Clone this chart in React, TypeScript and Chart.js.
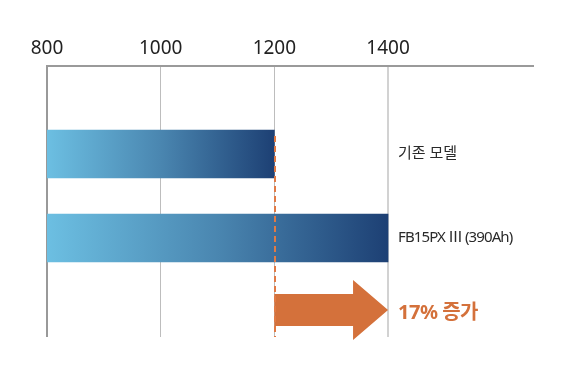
import React, { useEffect, useRef } from "react";
import { Chart, registerables } from "chart.js";

Chart.register(...registerables);

// ---- data ----
const rowLabels = ["기존 모델", "FB15PX Ⅲ (390Ah)"];
const capacities = [1200, 1400];
const rowPositions = [1, 2];
const increaseLabel = "17% 증가";
const increaseRow = 2.857;
const axisTicks = [800, 1000, 1200, 1400];
const axisMin = 800;
const axisMax = 1655;

const FONT = '"Noto Sans", "Noto Sans CJK KR", sans-serif';
const ORANGE = "#d4713b";

const annotations = {
  id: "annotations",
  afterDatasetsDraw(chart: any) {
    const { ctx, chartArea, scales } = chart;
    const xs = scales.x;
    const ys = scales.y;
    ctx.save();
    // row labels
    ctx.fillStyle = "#2a2a2a";
    ctx.textBaseline = "middle";
    ctx.textAlign = "left";
    const labelX = xs.getPixelForValue(capacities[1]) + 10;
    rowLabels.forEach((lbl, i) => {
      ctx.font = `15px ${FONT}`;
      (ctx as any).letterSpacing = i === 1 ? "-0.9px" : "0px";
      ctx.fillText(lbl, labelX, ys.getPixelForValue(rowPositions[i]));
    });
    (ctx as any).letterSpacing = "-0.5px";
    // increase label
    ctx.fillStyle = ORANGE;
    ctx.font = `bold 20px ${FONT}`;
    const ay = ys.getPixelForValue(increaseRow);
    ctx.fillText(increaseLabel, labelX, ay + 3);
    (ctx as any).letterSpacing = "0px";

    // arrow
    const x0 = xs.getPixelForValue(capacities[0]);
    const x1 = xs.getPixelForValue(capacities[1]);
    const headLen = 35;
    const bodyH = 16;
    const headH = 30;
    ctx.fillStyle = ORANGE;
    ctx.beginPath();
    ctx.moveTo(x0, ay - bodyH);
    ctx.lineTo(x1 - headLen, ay - bodyH);
    ctx.lineTo(x1 - headLen, ay - headH);
    ctx.lineTo(x1, ay);
    ctx.lineTo(x1 - headLen, ay + headH);
    ctx.lineTo(x1 - headLen, ay + bodyH);
    ctx.lineTo(x0, ay + bodyH);
    ctx.closePath();
    ctx.fill();

    // dashed reference line
    ctx.strokeStyle = "#e07a45";
    ctx.lineWidth = 2;
    ctx.setLineDash([6, 4]);
    const dx = Math.round(x0) + 1;
    ctx.beginPath();
    ctx.moveTo(dx, ys.getPixelForValue(rowPositions[0]) - 18);
    ctx.lineTo(dx, chartArea.bottom);
    ctx.stroke();
    ctx.restore();
  },
};

export default function App() {
  const ref = useRef<HTMLCanvasElement>(null);
  useEffect(() => {
    const canvas = ref.current!;
    const chart = new Chart(canvas, {
      type: "bar",
      data: {
        datasets: [
          {
            data: capacities.map((v, i) => ({ x: v, y: rowPositions[i] })),
            barThickness: 48,
            backgroundColor: (c: any) => {
              const ch = c.chart;
              const area = ch.chartArea;
              if (!area || !c.raw) return "#3d6f9e";
              const xr = ch.scales.x.getPixelForValue(c.raw.x);
              const g = ch.ctx.createLinearGradient(area.left, 0, xr, 0);
              g.addColorStop(0, "#6cbfe2");
              g.addColorStop(0.5, "#4a86b0");
              g.addColorStop(1, "#1d4074");
              return g;
            },
            borderWidth: 0,
          } as any,
        ],
      },
      options: {
        indexAxis: "y",
        animation: false,
        responsive: true,
        maintainAspectRatio: false,
        events: [],
        layout: { padding: { left: 47, right: 35, top: 0, bottom: 41 } },
        plugins: { legend: { display: false }, tooltip: { enabled: false } },
        scales: {
          x: {
            type: "linear",
            position: "top",
            min: axisMin,
            max: axisMax,
            afterBuildTicks: (s: any) => {
              s.ticks = axisTicks.map((v) => ({ value: v }));
            },
            afterFit: (s: any) => {
              s.height = 66;
            },
            ticks: {
              padding: 6,
              color: "#222",
              font: { family: FONT, size: 19 },
              maxRotation: 0,
              callback: (v: any) => String(v),
            },
            grid: {
              drawTicks: false,
              color: (c: any) =>
                c.tick && c.tick.value === 800
                  ? "#999999"
                  : c.tick && c.tick.value === 1400
                  ? "#d2d2d2"
                  : "#bdbdbd",
              lineWidth: (c: any) =>
                c.tick && (c.tick.value === 800 || c.tick.value === 1400) ? 2 : 1,
            },
            border: { display: true, color: "#9a9a9a", width: 2 },
          },
          y: {
            type: "linear",
            display: false,
            offset: false,
            reverse: true,
            min: -0.048,
            max: 3.178,
          },
        },
      },
      plugins: [annotations],
    });
    return () => chart.destroy();
  }, []);
  return (
    <div style={{ position: "fixed", left: 0, top: 0, width: 568, height: 378, background: "#fff" }}>
      <canvas ref={ref} />
    </div>
  );
}
